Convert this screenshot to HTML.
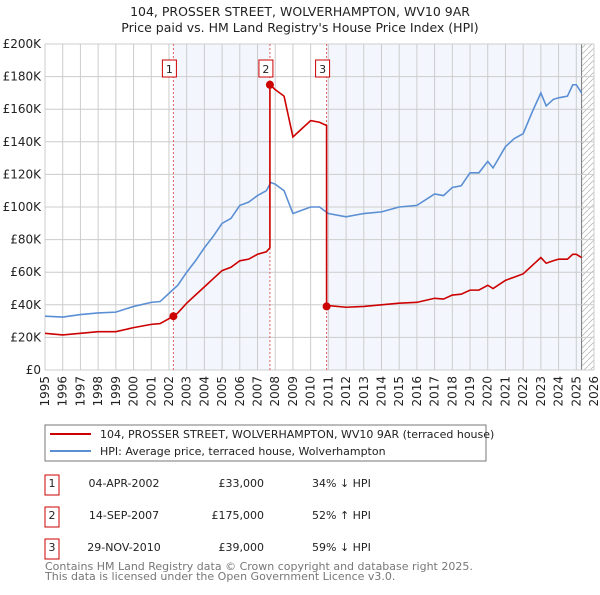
<!DOCTYPE html>
<html><head><meta charset="utf-8"><style>
body{margin:0;background:#fff;font-family:"Liberation Sans","DejaVu Sans",sans-serif;}
svg text{font-family:"DejaVu Sans","Liberation Sans",sans-serif;}
</style></head><body>
<svg id="chart" width="600" height="590" xmlns="http://www.w3.org/2000/svg">
<text x="300" y="16" text-anchor="middle" font-size="12.5" fill="#222">104, PROSSER STREET, WOLVERHAMPTON, WV10 9AR</text>
<text x="300" y="32" text-anchor="middle" font-size="12.5" fill="#222">Price paid vs. HM Land Registry's House Price Index (HPI)</text>
<g id="plot"></g>
<g>
<rect x="45" y="425" width="441" height="36" fill="#fff" stroke="#777"/>
<line x1="50" y1="434" x2="91" y2="434" stroke="#cc0000" stroke-width="2"/>
<text x="100" y="438" font-size="11" fill="#222">104, PROSSER STREET, WOLVERHAMPTON, WV10 9AR (terraced house)</text>
<line x1="50" y1="451" x2="91" y2="451" stroke="#5b8fd4" stroke-width="2"/>
<text x="100" y="455" font-size="11" fill="#222">HPI: Average price, terraced house, Wolverhampton</text>
</g>
<g font-size="11" fill="#222">
<rect x="45" y="475" width="14" height="20" fill="#fff" stroke="#cc0000"/><text x="52" y="487" text-anchor="middle">1</text>
<text x="124" y="487" text-anchor="middle">04-APR-2002</text><text x="264" y="487" text-anchor="end">£33,000</text><text x="312" y="487">34% ↓ HPI</text>
<rect x="45" y="507" width="14" height="20" fill="#fff" stroke="#cc0000"/><text x="52" y="519" text-anchor="middle">2</text>
<text x="124" y="519" text-anchor="middle">14-SEP-2007</text><text x="264" y="519" text-anchor="end">£175,000</text><text x="312" y="519">52% ↑ HPI</text>
<rect x="45" y="539" width="14" height="20" fill="#fff" stroke="#cc0000"/><text x="52" y="551" text-anchor="middle">3</text>
<text x="124" y="551" text-anchor="middle">29-NOV-2010</text><text x="264" y="551" text-anchor="end">£39,000</text><text x="312" y="551">59% ↓ HPI</text>
</g>
<text x="45" y="570" font-size="11" fill="#777">Contains HM Land Registry data © Crown copyright and database right 2025.</text>
<text x="45" y="580" font-size="11" fill="#777">This data is licensed under the Open Government Licence v3.0.</text>
</svg>
<script>
const years=[1995,1996,1997,1998,1999,2000,2001,2002,2003,2004,2005,2006,2007,2008,2009,2010,2011,2012,2013,2014,2015,2016,2017,2018,2019,2020,2021,2022,2023,2024,2025,2026];
const yTicks=[0,20,40,60,80,100,120,140,160,180,200];
const hpiX=[1995,1996,1997,1998,1999,2000,2001,2001.5,2002,2002.5,2003,2003.5,2004,2004.5,2005,2005.5,2006,2006.5,2007,2007.5,2007.75,2008,2008.5,2009,2009.5,2010,2010.5,2011,2012,2013,2014,2015,2016,2017,2017.5,2018,2018.5,2019,2019.5,2020,2020.3,2021,2021.5,2022,2022.5,2023,2023.3,2023.7,2024,2024.5,2024.8,2025,2025.3];
const hpiY=[33,32.5,34,35,35.5,39,41.5,42,47,52,60,67,75,82,90,93,101,103,107,110,115,114,110,96,98,100,100,96,94,96,97,100,101,108,107,112,113,121,121,128,124,137,142,145,158,170,162,166,167,168,175,175,170];
const priceX=[1995,1996,1997,1998,1999,2000,2001,2001.5,2002.25,2002.5,2003,2003.5,2004,2004.5,2005,2005.5,2006,2006.5,2007,2007.5,2007.7,2007.7,2008,2008.5,2009,2009.5,2010,2010.5,2010.9,2010.9,2011,2012,2013,2014,2015,2016,2017,2017.5,2018,2018.5,2019,2019.5,2020,2020.3,2021,2021.5,2022,2022.5,2023,2023.3,2023.7,2024,2024.5,2024.8,2025,2025.3];
const priceY=[22.5,21.5,22.5,23.5,23.5,26,28,28.5,33,35,41,46,51,56,61,63,67,68,71,72.5,75,175,172,168,143,148,153,152,150,39,39.5,38.5,39,40,41,41.5,44,43.5,46,46.5,49,49,52,50,55,57,59,64,69,65.5,67,68,68,71,71,69];
const saleX=[2002.25,2007.7,2010.9];
const saleY=[33,175,39];
const saleLabels=["1","2","3"];
const L=45,R=594,T=44,B=370;
const sx=v=>L+(v-1995)*(R-L)/31;
const sy=v=>B-v*(B-T)/200;
const NS="http://www.w3.org/2000/svg";
const g=document.getElementById('plot');
function mk(t,a,p){const e=document.createElementNS(NS,t);for(const k in a)e.setAttribute(k,a[k]);(p||g).appendChild(e);return e;}
let r=mk('rect',{x:sx(saleX[0]),y:T,width:sx(saleX[1])-sx(saleX[0]),height:B-T,fill:'#eef3fc',opacity:0.7});


r=mk('rect',{x:sx(saleX[2]),y:T,width:sx(2025.3)-sx(saleX[2]),height:B-T,fill:'#eef3fc',opacity:0.7});


const defs=mk('defs',{});
const pat=mk('pattern',{id:'hatch',width:6,height:6,patternUnits:'userSpaceOnUse'},defs);
mk('line',{x1:0,y1:6,x2:6,y2:0,stroke:'#bbb','stroke-width':0.8},pat);
r=mk('rect',{x:sx(2025.3),y:T,width:R-sx(2025.3),height:B-T,fill:'url(#hatch)'});


mk('line',{x1:sx(2025.3),y1:T,x2:sx(2025.3),y2:B,stroke:'#777','stroke-width':1});
years.forEach(y=>{
 const l=mk('line',{x1:sx(y),y1:T,x2:sx(y),y2:B,stroke:'#ccc','stroke-width':1});
 
 
 const t=mk('text',{x:0,y:0,'font-size':12,fill:'#222','text-anchor':'end',transform:`translate(${sx(y)+4},${B+6}) rotate(-90)`});
 t.textContent=y;
 
 
});
yTicks.forEach(v=>{
 const l=mk('line',{x1:L,y1:sy(v),x2:R,y2:sy(v),stroke:'#ccc','stroke-width':1});
 
 
 const t=mk('text',{x:L-4,y:sy(v)+4,'font-size':12,fill:'#222','text-anchor':'end'});
 t.textContent=v===0?'£0':'£'+v+'K';
 
 
});
saleX.forEach((x,i)=>{
 const l=mk('line',{x1:sx(x),y1:T,x2:sx(x),y2:B,stroke:'#e06060','stroke-width':1,'stroke-dasharray':'2,2'});
 
 
 const b=mk('rect',{x:sx(x)-11,y:60,width:14,height:17,fill:'#fff',stroke:'#cc0000'});
 
 
 const t=mk('text',{x:sx(x)-4,y:73,'font-size':11,fill:'#222','text-anchor':'middle'});
 t.textContent=saleLabels[i];
 
 
});
const hp=mk('polyline',{points:hpiX.map((x,i)=>sx(x)+','+sy(hpiY[i])).join(' '),fill:'none',stroke:'#5b8fd4','stroke-width':1.6});


const pp=mk('polyline',{points:priceX.map((x,i)=>sx(x)+','+sy(priceY[i])).join(' '),fill:'none',stroke:'#cc0000','stroke-width':1.6});


saleX.forEach((x,i)=>{
 const c=mk('circle',{cx:sx(x),cy:sy(saleY[i]),r:4,fill:'#cc0000'});
 
 
});
</script>
</body></html>
